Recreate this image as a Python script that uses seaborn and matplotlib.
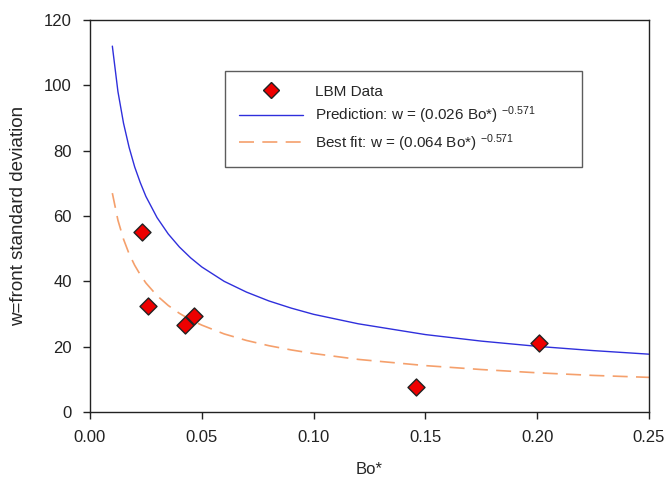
import numpy as np
import pandas as pd
import seaborn as sns
import matplotlib
matplotlib.use("Agg")
import matplotlib.pyplot as plt
from matplotlib.lines import Line2D

# LBM points
bo_data = [0.0233, 0.0259, 0.0425, 0.0465, 0.146, 0.201]
w_data = [55.1, 32.4, 26.6, 29.4, 7.6, 21.1]

# curves at a few Bo* positions
bo_curve = [0.010, 0.0125, 0.015, 0.0175, 0.020, 0.0225, 0.025, 0.030, 0.035, 0.040, 0.045,
            0.050, 0.060, 0.070, 0.080, 0.090, 0.100, 0.120, 0.150, 0.175, 0.200, 0.225, 0.250]
w_pred = [112.0, 98.1, 88.4, 81.0, 75.0, 70.2, 66.0, 59.5, 54.5, 50.5, 47.2,
          44.4, 40.0, 36.7, 34.0, 31.8, 29.9, 27.0, 23.7, 21.7, 20.1, 18.8, 17.7]
w_best = [67.0, 58.7, 52.9, 48.4, 44.9, 42.0, 39.5, 35.6, 32.6, 30.2, 28.2,
          26.6, 23.9, 21.9, 20.3, 19.0, 17.9, 16.1, 14.2, 13.0, 12.0, 11.2, 10.6]

pred_label = r"Prediction: w = (0.026 Bo*) $^{-0.571}$"
best_label = r"Best fit: w = (0.064 Bo*) $^{-0.571}$"

sns.set_style("ticks")
plt.rcParams['font.family'] = ['Liberation Sans', 'DejaVu Sans']
plt.rcParams['mathtext.fontset'] = 'custom'
plt.rcParams['mathtext.rm'] = 'Liberation Sans'
plt.rcParams['mathtext.it'] = 'Liberation Sans'
plt.rcParams['mathtext.default'] = 'regular'

fig = plt.figure(figsize=(6.68, 4.83), dpi=100)
ax = fig.add_axes([0.1347, 0.147, 0.8369, 0.8116])

curves = pd.DataFrame({'bo': bo_curve, 'pred': w_pred, 'best': w_best})
pts = pd.DataFrame({'bo': bo_data, 'w': w_data})

blue = '#2f2fdc'
orange = '#f5a06c'
sns.lineplot(data=curves, x='bo', y='pred', ax=ax, color=blue, lw=1.0)
sns.lineplot(data=curves, x='bo', y='best', ax=ax, color=orange, lw=1.2,
             linestyle=(0, (9, 5)))
sns.scatterplot(data=pts, x='bo', y='w', ax=ax, marker='D', s=75,
                color='#ee0000', edgecolor='#222222', linewidth=1.0, zorder=5)

ax.set_xlim(0, 0.25)
ax.set_ylim(0, 120)
ax.set_xticks([0.0, 0.05, 0.10, 0.15, 0.20, 0.25])
ax.set_xticklabels(['0.00', '0.05', '0.10', '0.15', '0.20', '0.25'])
ax.set_yticks(range(0, 121, 20))
ax.tick_params(axis='both', direction='out', length=5, width=1, labelsize=12,
               colors='#222222', pad=8)
for s in ax.spines.values():
    s.set_linewidth(1.0)
    s.set_color('#222222')

ax.set_xlabel('Bo*', fontsize=12, labelpad=12)
ax.set_ylabel('w=front standard deviation', fontsize=13.5, labelpad=12)

handles = [
    Line2D([], [], marker='D', ls='none', markersize=8, markerfacecolor='#ee0000',
           markeredgecolor='#222222'),
    Line2D([], [], color=blue, lw=1.0),
    Line2D([], [], color=orange, lw=1.2, linestyle=(0, (9, 5))),
]
leg = ax.legend(handles, ['LBM Data', pred_label, best_label], loc='upper left',
                bbox_to_anchor=(0.2415, 0.870, 0.6386, 0.0), mode='expand',
                fontsize=11, frameon=True, fancybox=False, edgecolor='#333333',
                handlelength=4.2, handletextpad=0.8, borderpad=0.9, labelspacing=0.38,
                borderaxespad=0)
leg.get_frame().set_linewidth(1.0)

fig.savefig('out.png', dpi=100)
